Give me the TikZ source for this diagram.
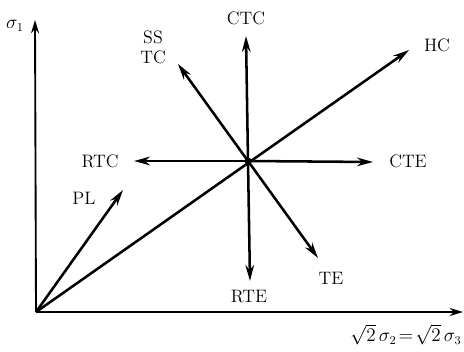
\documentclass[tikz,border=0pt]{standalone}
\usetikzlibrary{arrows.meta, positioning}
\tikzset{
  axis/.style={line width=1.4pt, -{Stealth[length=10pt, width=6pt]}},
  loadvec/.style={line width=1.9pt, -{Stealth[length=12pt, width=6.5pt]}},
  lbl/.style={font=\fontsize{13.5}{15}\selectfont, inner sep=1pt},
}

\begin{document}
\begin{tikzpicture}[x=0.75pt, y=-0.75pt]
\useasboundingbox (0,0) rectangle (464,351);

% origin, centre point and free ends
\coordinate (O) at (36,312);
\coordinate (C) at (248,161);
\coordinate (ytip) at (35,20);
\coordinate (xtip) at (463,312);

% axes
\draw[axis] (O) -- (ytip);
\draw[axis] (O) -- (xtip);
\node[lbl] (s1) at (15,26) {$\sigma_1$};
\node[lbl, anchor=north east] (s23) at (463,323) {$\sqrt{2}\,\sigma_2\!=\!\sqrt{2}\,\sigma_3$};

% labels of the paths
\node[lbl] (ctc) at (246,18) {CTC};
\node[lbl] (rte) at (249,297) {RTE};
\node[lbl] (rtc) at (100,161) {RTC};
\node[lbl] (cte) at (408,161) {CTE};
\node[lbl] (hc) at (437,45) {HC};
\node[lbl, align=center] (sstc) at (153,47) {SS\\TC};
\node[lbl] (te) at (331,278) {TE};
\node[lbl] (pl) at (84,198) {PL};

% path ends
\coordinate (ctcE) at (246,36);
\coordinate (rteE) at (250,281);
\coordinate (rtcE) at (134,161);
\coordinate (cteE) at (373,162);
\coordinate (hcE) at (409,50);
\coordinate (sstcE) at (178,64);
\coordinate (teE) at (318,258);
\coordinate (plE) at (123,190);

% loading paths
\draw[loadvec] (O) -- (hcE);
\draw[loadvec] (O) -- (plE);
\draw[loadvec] (C) -- (ctcE);
\draw[loadvec] (C) -- (rteE);
\draw[loadvec] (C) -- (rtcE);
\draw[loadvec] (C) -- (cteE);
\draw[loadvec] (C) -- (sstcE);
\draw[loadvec] (C) -- (teE);
\fill (C) circle (3.5);

\end{tikzpicture}
\end{document}
